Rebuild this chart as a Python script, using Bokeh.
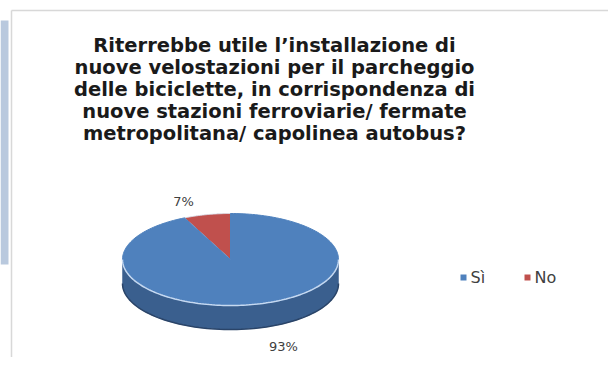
import numpy as np
from bokeh.plotting import figure
from bokeh.models import Range1d
from bokeh.core.properties import value
from bokeh.embed import file_html
from bokeh.resources import INLINE

# ---- data ----
categories = ["Sì", "No"]
shares = [93, 7]
top_colors = ["#4f81bd", "#c0504d"]
side_colors = ["#3a5f8e", "#8e3b39"]
title_lines = [
    "Riterrebbe utile l\u2019installazione di",
    "nuove velostazioni per il parcheggio",
    "delle biciclette, in corrispondenza di",
    "nuove stazioni ferroviarie/ fermate",
    "metropolitana/ capolinea autobus?",
]

# ---- layout ----
W, H = 608, 357
p = figure(width=W, height=H, output_backend="svg", toolbar_location=None,
           x_range=Range1d(0, W), y_range=Range1d(H, 0), min_border=0)
p.axis.visible = False
p.grid.visible = False
p.outline_line_color = None
p.background_fill_color = "white"
p.border_fill_color = "white"

# chart frame lines
p.segment(x0=[11, 11], y0=[10, 10], x1=[616, 11], y1=[10, 365], line_color="#d8d8d8", line_width=1.5)
p.quad(left=[0], right=[8], top=[20], bottom=[264], fill_color="#b9c9de", line_color=None)

# title
p.text(x=[274] * len(title_lines), y=[45 + 22 * i for i in range(len(title_lines))],
       text=title_lines, text_font=value("DejaVu Sans"), text_font_style="bold",
       text_font_size="19.5px", text_align="center", text_baseline="middle", text_color="#1a1a1a")

# ---- 3D pie ----
cx, cy, rx, ry, depth = 230, 259, 108, 46, 24
start = np.pi / 2
order = [1, 0]  # No slice goes counter-clockwise from 12 o'clock, Sì fills the rest
bounds = {}
a = start
for i in order:
    span = shares[i] / sum(shares) * 2 * np.pi
    bounds[i] = (a, a + span)
    a += span

def ell(t, dy=0.0):
    return cx + rx * np.cos(t), cy - ry * np.sin(t) + dy

# sides (front half only)
for i in order:
    t0, t1 = bounds[i]
    for k in range(-1, 2):
        lo = max(t0, np.pi + 2 * np.pi * k)
        hi = min(t1, 2 * np.pi + 2 * np.pi * k)
        if hi > lo:
            t = np.linspace(lo, hi, 80)
            xt, yt = ell(t)
            xb, yb = ell(t[::-1], depth)
            p.patch(np.concatenate([xt, xb]), np.concatenate([yt, yb]),
                    fill_color=side_colors[i], line_color=side_colors[i], line_width=0.5)
            xb2, yb2 = ell(t, depth)
            p.line(xb2, yb2, line_color="#2a4468" if i == 0 else "#6e2b2a", line_width=1.5)

# top faces
for i in order:
    t0, t1 = bounds[i]
    t = np.linspace(t0, t1, 200)
    xs, ys = ell(t)
    p.patch(np.concatenate([[cx], xs]), np.concatenate([[cy], ys]),
            fill_color=top_colors[i], line_color="#dbe5f1" if i == 1 else top_colors[i], line_width=1)

# rim highlight along front edge
t = np.linspace(np.pi, 2 * np.pi, 120)
xr, yr = ell(t)
p.line(xr, yr, line_color="#c6d9f1", line_width=1.5)

# data labels
lbl_x = [283, 183]
lbl_y = [346, 201]
p.text(x=lbl_x, y=lbl_y, text=[f"{v}%" for v in shares], text_font=value("DejaVu Sans"),
       text_font_size="13px", text_align="center", text_baseline="middle", text_color="#404040")

# legend
leg_x = [463, 527]
leg_y = [277, 277]
p.scatter(x=leg_x, y=leg_y, marker="square", size=6, fill_color=top_colors, line_color=None)
p.text(x=[x + 7 for x in leg_x], y=leg_y, text=categories, text_font=value("DejaVu Sans"),
       text_font_size="16px", text_align="left", text_baseline="middle", text_color="#404040")

open("out.html", "w").write(file_html(p, INLINE))
